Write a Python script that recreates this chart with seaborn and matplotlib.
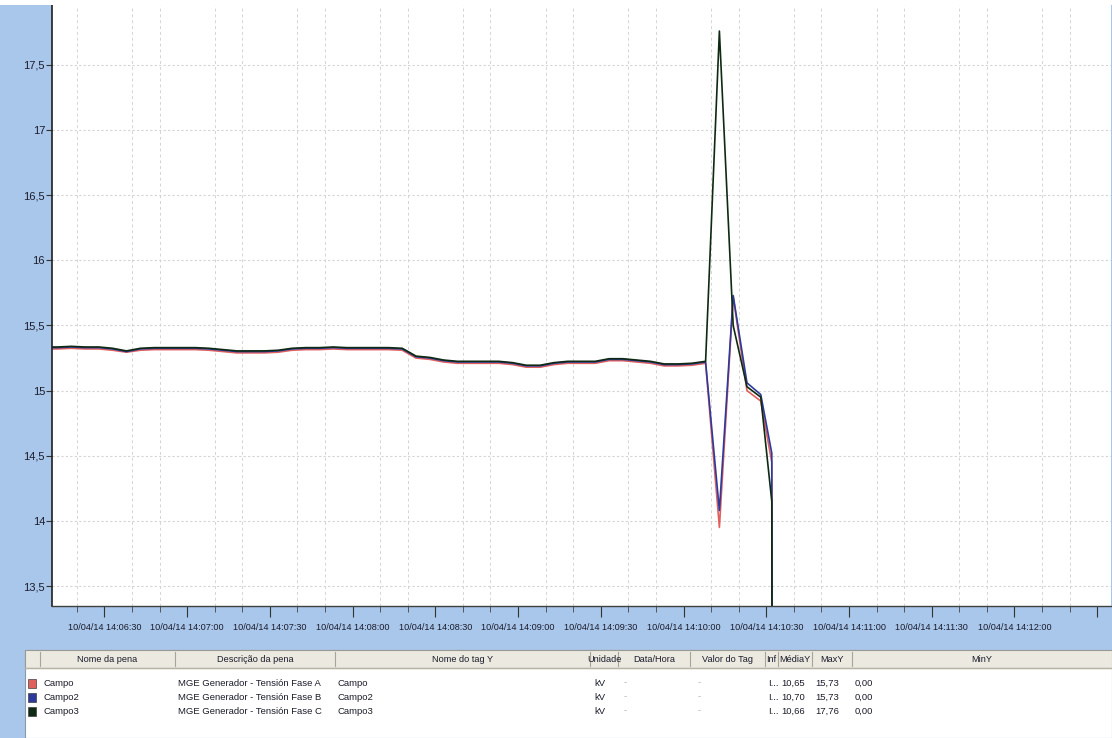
import numpy as np
import pandas as pd
import matplotlib
matplotlib.use("Agg")
import matplotlib.pyplot as plt
import matplotlib.dates as mdates
from matplotlib.patches import Rectangle
from matplotlib.ticker import FuncFormatter
import seaborn as sns

# ---------------- data ----------------
# regular 5 s samples from 10/04/14 14:06:08 to 14:10:08
regular_start = "2014-04-10 14:06:08"
regular_count = 49
campo2_regular = [15.33, 15.33, 15.335, 15.33, 15.33, 15.32, 15.30, 15.32, 15.325, 15.325,
                  15.325, 15.325, 15.32, 15.31, 15.30, 15.30, 15.30, 15.305, 15.32, 15.325,
                  15.325, 15.33, 15.325, 15.325, 15.325, 15.325, 15.32, 15.26, 15.25, 15.23,
                  15.22, 15.22, 15.22, 15.22, 15.21, 15.19, 15.19, 15.21, 15.22, 15.22,
                  15.22, 15.24, 15.24, 15.23, 15.22, 15.20, 15.20, 15.205, 15.22]
campo_regular = [15.32, 15.32, 15.325, 15.32, 15.32, 15.31, 15.295, 15.31, 15.315, 15.315,
                 15.315, 15.315, 15.31, 15.30, 15.29, 15.29, 15.29, 15.295, 15.31, 15.315,
                 15.315, 15.32, 15.315, 15.315, 15.315, 15.315, 15.31, 15.25, 15.24, 15.22,
                 15.21, 15.21, 15.21, 15.21, 15.20, 15.18, 15.18, 15.20, 15.21, 15.21,
                 15.21, 15.23, 15.23, 15.22, 15.21, 15.19, 15.19, 15.195, 15.21]
campo3_regular = [15.335, 15.335, 15.34, 15.335, 15.335, 15.325, 15.305, 15.325, 15.33, 15.33,
                  15.33, 15.33, 15.325, 15.315, 15.305, 15.305, 15.305, 15.31, 15.325, 15.33,
                  15.33, 15.335, 15.33, 15.33, 15.33, 15.33, 15.325, 15.265, 15.255, 15.235,
                  15.225, 15.225, 15.225, 15.225, 15.215, 15.195, 15.195, 15.215, 15.225, 15.225,
                  15.225, 15.245, 15.245, 15.235, 15.225, 15.205, 15.205, 15.21, 15.225]
# disturbance samples
event_times = ["2014-04-10 14:10:13", "2014-04-10 14:10:18", "2014-04-10 14:10:23",
               "2014-04-10 14:10:28", "2014-04-10 14:10:32", "2014-04-10 14:10:33"]
campo_event = [13.95, 15.72, 15.00, 14.92, 14.45, 0.0]
campo2_event = [14.08, 15.73, 15.06, 14.97, 14.52, 0.0]
campo3_event = [17.76, 15.50, 15.03, 14.95, 14.15, 0.0]

pen_names = ["Campo", "Campo2", "Campo3"]
descriptions = ["MGE Generador - Tensión Fase A", "MGE Generador - Tensión Fase B",
                "MGE Generador - Tensión Fase C"]
tag_names = ["Campo", "Campo2", "Campo3"]
units = ["kV", "kV", "kV"]
media_y = ["10,65", "10,70", "10,66"]
max_y = ["15,73", "15,73", "17,76"]
min_y = ["0,00", "0,00", "0,00"]
headers = ["", "Nome da pena", "Descrição da pena", "Nome do tag Y", "Unidade", "Data/Hora",
           "Valor do Tag", "Inf", "MédiaY", "MaxY", "MinY"]
y_ticks = [13.5, 14, 14.5, 15, 15.5, 16, 16.5, 17, 17.5]
y_tick_labels = ["13,5", "14", "14,5", "15", "15,5", "16", "16,5", "17", "17,5"]
last_labelled_time = "2014-04-10 14:12:00"
pen_colors = ["#e0605e", "#2c3a9c", "#0f2a12"]

# ---------------- build frame ----------------
times = list(pd.date_range(regular_start, periods=regular_count, freq="5s")) + \
        list(pd.to_datetime(event_times))
series = {
    "Campo": campo_regular + campo_event,
    "Campo2": campo2_regular + campo2_event,
    "Campo3": campo3_regular + campo3_event,
}
frames = []
for name, vals in series.items():
    frames.append(pd.DataFrame({"time": times, "value": vals, "pena": name}))
df = pd.concat(frames, ignore_index=True)

# ---------------- figure ----------------
W, H = 1112, 738
fig = plt.figure(figsize=(W / 100, H / 100), dpi=100)
BLUE_BG = "#a9c7ea"
fig.patch.set_facecolor(BLUE_BG)
FONT = ["Liberation Sans Narrow", "Liberation Sans", "DejaVu Sans"]
TXT = "#1c1c2c"

left_px, right_px, top_px, bottom_px = 52, 1111, 5, 606
ax = fig.add_axes([left_px / W, 1 - bottom_px / H, (right_px - left_px) / W,
                   (bottom_px - top_px) / H])
ax.set_facecolor("white")

palette = dict(zip(pen_names, pen_colors))
sns.lineplot(data=df, x="time", y="value", hue="pena", palette=palette, ax=ax,
             legend=False, linewidth=1.2, sort=True, estimator=None)

ax.set_xlim(pd.Timestamp("2014-04-10 14:06:11"), pd.Timestamp("2014-04-10 14:12:35"))
ax.set_ylim(13.347, 17.96)
ax.set_yticks(y_ticks)
ax.set_yticklabels(y_tick_labels)

ax.xaxis.set_major_locator(mdates.SecondLocator(bysecond=[0, 30]))
ax.xaxis.set_minor_locator(mdates.SecondLocator(bysecond=[0, 10, 20, 30, 40, 50]))
last_num = mdates.date2num(pd.Timestamp(last_labelled_time))


def fmt_time(v, pos=None):
    if v > last_num + 1e-7:
        return ""
    return mdates.num2date(v).strftime("%d/%m/%y %H:%M:%S")


ax.xaxis.set_major_formatter(FuncFormatter(fmt_time))

ax.set_xlabel("")
ax.set_ylabel("")
ax.grid(False)
ax.set_axisbelow(True)
for t in ax.xaxis.get_minorticklocs():
    ax.axvline(t, color="#d4d4d4", lw=0.7, ls=(0, (3, 3)), zorder=0)
for y in y_ticks:
    ax.axhline(y, color="#d4d4d4", lw=0.8, ls=(0, (2, 2)), zorder=0)

ax.tick_params(axis="x", which="major", length=8, width=0.8, color="#333333",
               labelsize=6.6, labelcolor=TXT, pad=4, direction="out")
ax.tick_params(axis="x", which="minor", length=4, width=0.7, color="#555555", direction="out")
ax.tick_params(axis="y", which="major", length=4, width=0.8, color="#333333",
               labelsize=8, labelcolor=TXT, pad=1, direction="out")
for lab in ax.get_xticklabels() + ax.get_yticklabels():
    lab.set_family(FONT)

for side in ["top", "right"]:
    ax.spines[side].set_visible(False)
ax.spines["left"].set_color("#202020")
ax.spines["left"].set_linewidth(1.2)
ax.spines["bottom"].set_color("#404040")
ax.spines["bottom"].set_linewidth(1.0)

# ---------------- pen table ----------------
tab = fig.add_axes([0, 0, 1, 1], facecolor="none")
tab.set_xlim(0, W)
tab.set_ylim(H, 0)
tab.axis("off")

tab.add_patch(Rectangle((0, 0), W, top_px, facecolor="white", edgecolor="none"))
table_left, table_top = 25, 650
header_h = 18
tab.add_patch(Rectangle((table_left, table_top), W - table_left, H - table_top,
                        facecolor="white", edgecolor="#8a9aaa", lw=0.8))
col_edges = [25, 40, 175, 335, 590, 618, 690, 765, 778, 812, 852, 1112]
tab.add_patch(Rectangle((table_left, table_top), W - table_left, header_h,
                        facecolor="#ebe9e0", edgecolor="#9a9a90", lw=0.8))
tab.plot([table_left, W], [table_top + header_h, table_top + header_h], color="#b8b4a4", lw=1.0)
for xe in col_edges[1:-1]:
    tab.plot([xe, xe], [table_top + 2, table_top + header_h - 2], color="#a8a498", lw=0.8)
for i, hname in enumerate(headers):
    if hname:
        cx = (col_edges[i] + col_edges[i + 1]) / 2
        tab.text(cx, table_top + header_h / 2 + 0.5, hname, ha="center", va="center",
                 fontsize=6.6, color=TXT, family=FONT)

row_y = [683, 697, 711]
for r in range(3):
    y = row_y[r]
    tab.add_patch(Rectangle((28, y - 4.5), 8, 9, facecolor=pen_colors[r],
                            edgecolor="#404040", lw=0.5))
    cells = [(44, pen_names[r]), (178, descriptions[r]), (338, tag_names[r]),
             (594, units[r]), (624, "-"), (698, "-"), (768, "I..."),
             (781, media_y[r]), (815, max_y[r]), (855, min_y[r])]
    for xx, s in cells:
        col = "#b0b0b0" if s == "-" else TXT
        tab.text(xx, y, s, ha="left", va="center", fontsize=6.8, color=col, family=FONT)

fig.savefig("out.png", dpi=100, facecolor=fig.get_facecolor())
